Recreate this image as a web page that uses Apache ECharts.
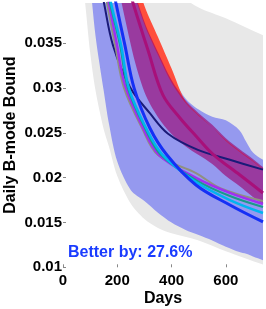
<!DOCTYPE html>
<html><head><meta charset="utf-8">
<script src="https://cdn.jsdelivr.net/npm/echarts@6/dist/echarts.min.js"></script>
<style>html,body{margin:0;padding:0;background:#fff}#c{width:266px;height:309px}</style>
</head><body><div id="c"></div>
<script>
// ---- tick labels ----
const xTicks = [0, 200, 400, 600];
const yTicks = [0.01, 0.015, 0.02, 0.025, 0.03, 0.035];

// ---- gray band ----
const grayDays  = [30, 80, 100, 120, 150, 170, 200, 250, 300, 350, 400, 500, 600, 737, 790];
const grayLower = [0.052, 0.0399, 0.0340, 0.0297, 0.0254, 0.0234, 0.0202, 0.0171, 0.0154, 0.0144, 0.0138, 0.0130, 0.0118, 0.0103, 0.0097];
const grayUpper = [0.10, 0.075, 0.070, 0.066, 0.060, 0.057, 0.053, 0.048, 0.045, 0.0425, 0.041, 0.0390, 0.0378, 0.0359, 0.0352];

// ---- blue band ----
const blueDays  = [30, 80, 100, 120, 150, 170, 200, 250, 300, 350, 400, 450, 500, 550, 600, 650, 675, 700, 737, 790];
const blueLower = [0.065, 0.048, 0.0418, 0.0358, 0.0297, 0.0259, 0.0218, 0.0186, 0.0174, 0.0161, 0.0150, 0.0142, 0.0136, 0.0130, 0.0123, 0.0117, 0.0115, 0.0112, 0.0108, 0.0103];
const blueUpper = [0.10, 0.08, 0.075, 0.07, 0.065, 0.062, 0.058, 0.044, 0.0385, 0.0345, 0.0315, 0.0289, 0.0276, 0.0268, 0.0264, 0.0253, 0.0240, 0.0228, 0.0220, 0.0214];

// ---- red & magenta bands ----
const magDays  = [180, 250, 300, 350, 400, 450, 500, 550, 600, 650, 700, 737, 790];
const magLower = [0.046, 0.0348, 0.02957, 0.02676, 0.02488, 0.02354, 0.02253, 0.02153, 0.02019, 0.01907, 0.01785, 0.01707, 0.0160];
const magUpper = [0.056, 0.0425, 0.0374, 0.0340, 0.0309, 0.0287, 0.0272, 0.0259, 0.0244, 0.0232, 0.0221, 0.0212, 0.0202];
const redUpper = [0.056, 0.0440, 0.0392, 0.0357, 0.0322, 0.0286, 0.0270, 0.0256, 0.0242, 0.0230, 0.0219, 0.0210, 0.0200];
const redLower = [0.053, 0.0420, 0.0371, 0.0337, 0.0306, 0.0284, 0.0269, 0.0256, 0.0241, 0.0229, 0.0218, 0.0209, 0.0199];

// ---- lines ----
const navyD = [140, 151, 184, 247, 320, 387, 497, 615, 737];
const navyV = [0.0412, 0.0395, 0.0348, 0.0301, 0.0272, 0.0249, 0.0231, 0.0220, 0.0209];
const oliveD = [152, 162, 192, 225, 291, 350, 490, 582, 737];
const oliveV = [0.0412, 0.0395, 0.0348, 0.0300, 0.02555, 0.02253, 0.02052, 0.0188, 0.0174];
const purpleD = [159, 169, 199, 228, 295, 354, 490, 615, 737];
const purpleV = [0.0412, 0.0395, 0.0348, 0.03037, 0.02555, 0.02253, 0.01997, 0.0183, 0.01707];
const tealD = [163, 173, 210, 239, 302, 361, 490, 615, 737];
const tealV = [0.0412, 0.0395, 0.0348, 0.0300, 0.02555, 0.02253, 0.01974, 0.01796, 0.01673];
const cyanD = [167, 177, 214, 243, 306, 368, 490, 615, 737];
const cyanV = [0.0412, 0.0395, 0.0348, 0.0300, 0.02555, 0.02253, 0.01952, 0.01751, 0.01606];
const blueLineD = [185, 195, 228, 262, 320, 383, 490, 615, 737];
const blueLineV = [0.0412, 0.0395, 0.0348, 0.0300, 0.02555, 0.02253, 0.01919, 0.01695, 0.01506];
const magLineD = [240, 258, 313, 368, 431, 490, 552, 652, 737];
const magLineV = [0.0415, 0.0395, 0.03425, 0.02924, 0.02666, 0.02465, 0.02264, 0.0203, 0.01829];

const annotation = 'Better by: 27.6%';

const FONT = '"Liberation Sans", Arial, sans-serif';

function zip(d, v) { return d.map((x, i) => [x, v[i]]); }

function band(name, days, lower, upper, fill) {
  return {
    type: 'custom', name: name, silent: true,
    data: [[300, 0.02]],
    renderItem: function (params, api) {
      const pts = [];
      for (let i = 0; i < days.length; i++) pts.push(api.coord([days[i], lower[i]]));
      for (let i = days.length - 1; i >= 0; i--) pts.push(api.coord([days[i], upper[i]]));
      const cs = params.coordSys;
      return {
        type: 'group',
        clipPath: { type: 'rect', shape: { x: cs.x, y: cs.y, width: cs.width, height: cs.height } },
        children: [{ type: 'polygon', shape: { points: pts, smooth: 0.3 }, style: { fill: fill } }]
      };
    }
  };
}

function line(name, d, v, color, width) {
  return {
    type: 'line', name: name, data: zip(d, v), symbol: 'none', smooth: 0.35,
    silent: true, clip: true,
    lineStyle: { color: color, width: width }
  };
}

const chart = echarts.init(document.getElementById('c'), null, { renderer: 'canvas' });
chart.setOption({
  animation: false,
  backgroundColor: '#fff',
  grid: { left: 63, right: 3, top: 3, bottom: 41.7, containLabel: false, outerBoundsMode: 'none' },
  xAxis: {
    type: 'value', min: 0, max: 737, interval: 200,
    name: 'Days', nameLocation: 'middle', nameGap: 23, nameMoveOverlap: false,
    nameTextStyle: { fontFamily: FONT, fontWeight: 'bold', fontSize: 16, color: '#000' },
    axisLine: { show: false },
    axisTick: { show: true, inside: true, length: 3, lineStyle: { color: '#888', width: 1 }, customValues: xTicks },
    axisLabel: { fontFamily: FONT, fontWeight: 'bold', fontSize: 15, color: '#000', margin: 6,
      customValues: xTicks, formatter: v => String(v) },
    splitLine: { show: false }
  },
  yAxis: {
    type: 'value', min: 0.01, max: 0.0395, interval: 0.005,
    name: 'Daily B-mode Bound', nameLocation: 'middle', nameGap: 44, nameMoveOverlap: false,
    nameTextStyle: { fontFamily: FONT, fontWeight: 'bold', fontSize: 16, color: '#000' },
    axisLine: { show: false },
    axisTick: { show: true, inside: true, length: 3, lineStyle: { color: '#888', width: 1 }, customValues: yTicks },
    axisLabel: { fontFamily: FONT, fontWeight: 'bold', fontSize: 15, color: '#000', margin: 1,
      customValues: yTicks, formatter: v => String(Math.round(v * 1000) / 1000) },
    splitLine: { show: false }
  },
  graphic: [{
    type: 'text', x: 68, y: 253, silent: true,
    style: { text: annotation, fill: '#1a3cff', font: 'bold 16px ' + FONT, textAlign: 'left', textVerticalAlign: 'middle', verticalAlign: 'middle' }
  }],
  series: [
    band('gray', grayDays, grayLower, grayUpper, '#e8e8e8'),
    band('blue', blueDays, blueLower, blueUpper, '#9599ef'),
    band('red', magDays, redLower, redUpper, '#ff4e3c'),
    line('navy', navyD, navyV, '#1a1a78', 2),
    line('olive', oliveD, oliveV, '#8f9080', 2),
    line('purple', purpleD, purpleV, '#a030f0', 2.5),
    line('teal', tealD, tealV, '#1a9a8a', 2),
    line('cyan', cyanD, cyanV, '#00b4f0', 2.5),
    line('blueLine', blueLineD, blueLineV, '#1530f5', 3),
    line('magLine', magLineD, magLineV, '#a8107a', 3),
    band('magenta', magDays, magLower, magUpper, 'rgba(155,0,110,0.62)')
  ]
});
</script>
</body></html>
